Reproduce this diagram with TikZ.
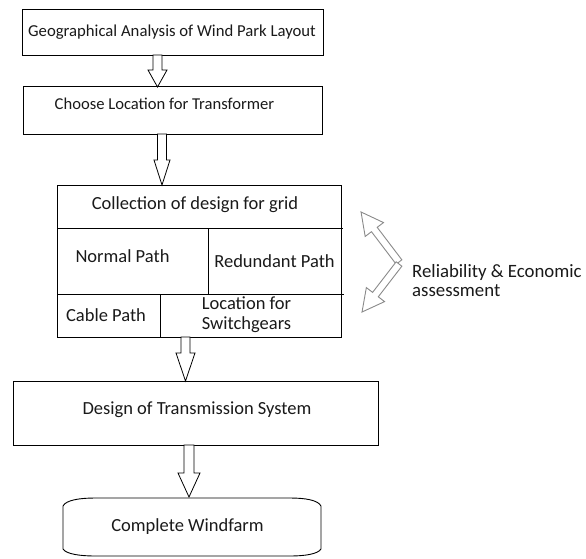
\documentclass[tikz,border=0pt]{standalone}
\usepackage{fontspec}
\setmainfont{Carlito}
\usetikzlibrary{calc}
\definecolor{txt}{HTML}{1A1A1A}
\definecolor{arrgray}{HTML}{8A8A8A}
\newcommand\blockarr[7]{%
  \draw[#1] (#2-#6,#3) -- (#2+#6,#3) -- (#2+#6,#4) -- (#2+#7,#4) -- (#2,#5) -- (#2-#7,#4) -- (#2-#6,#4) -- cycle;}
\newcommand\grayarr[4]{% x, y, angle, length
  \begin{scope}[shift={(#1,#2)}, rotate=#3]
    \draw[garrow] (0,-3.6) -- (#4-22,-3.6) -- (#4-22,-11.5) -- (#4,0) -- (#4-22,11.5) -- (#4-22,3.6) -- (0,3.6) -- cycle;
  \end{scope}}
\begin{document}
\begin{tikzpicture}[x=1pt,y=-1pt,
  box/.style={draw=black, line width=0.9pt, inner sep=0pt},
  lbl/.style={font=\fontsize{18.5}{20}\selectfont, text=txt, inner sep=0pt},
  barrowst/.style={draw=black, line width=0.8pt, fill=white},
  garrow/.style={draw=arrgray, line width=0.9pt, fill=white},
  gridline/.style={draw=black, line width=0.9pt}]
\useasboundingbox[fill=white] (0,0) rectangle (586,558);

% Box 1
\node[box, minimum width=301pt, minimum height=46pt] (b1) at (172.5,32) {};
\node[lbl, font=\fontsize{16.7}{20}\selectfont] (b1t) at (172,32) {Geographical Analysis of Wind Park Layout};

% Box 2
\node[box, minimum width=299pt, minimum height=48pt] (b2) at (172.5,110) {};
\node[lbl, font=\fontsize{16.6}{20}\selectfont] (b2t) at (164.5,104) {Choose Location for Transformer};

% Grid box
\node[box, minimum width=284pt, minimum height=152pt] (g) at (199,261) {};
\coordinate (r1L) at (57,228); \coordinate (r1R) at (343,228);
\coordinate (r2L) at (57,294); \coordinate (r2R) at (344,294);
\coordinate (v1T) at (208,228); \coordinate (v1B) at (208,294);
\coordinate (v2T) at (160,294); \coordinate (v2B) at (160,337);
\draw[gridline] (r1L) -- (r1R);
\draw[gridline] (r2L) -- (r2R);
\draw[gridline] (v1T) -- (v1B);
\draw[gridline] (v2T) -- (v2B);
\node[lbl] (gt) at (195,205) {Collection of design for grid};
\node[lbl] (np) at (122.5,256) {Normal Path};
\node[lbl] (rp) at (274.5,261) {Redundant Path};
\node[lbl] (cp) at (106,315) {Cable Path};
\node[lbl, align=center] (ls) at (246.5,315) {Location for\\Switchgears};

% Box 4
\node[box, minimum width=365pt, minimum height=64pt] (b4) at (195.5,413) {};
\node[lbl] (b4t) at (197,410) {Design of Transmission System};

% Terminal
\node[lbl] (cw) at (187.5,527) {Complete Windfarm};
\draw[line width=0.9pt] (63,506) .. controls (66,500) and (80,498) .. (95,498) -- (290,498)
  .. controls (305,498) and (318,500) .. (321,506) -- (321,549)
  .. controls (318,554) and (305,556) .. (290,556) -- (95,556)
  .. controls (80,556) and (66,554) .. (63,549) -- cycle;

% Block arrows
\blockarr{barrowst}{157.5}{55}{70}{87}{4.5}{9.5}
\blockarr{barrowst}{162}{134}{160}{185}{4.5}{8}
\blockarr{barrowst}{185.5}{337}{353}{381}{4.5}{9.5}
\blockarr{barrowst}{189}{445}{473}{497}{5}{11}

% Gray arrows
\grayarr{399}{262}{127.2}{62.8}
\grayarr{399}{264}{232.4}{60.6}
\node[lbl, align=left, anchor=west, font=\fontsize{18.8}{19}\selectfont] (ra) at (412,281) {Reliability \& Economic\\assessment};
\end{tikzpicture}
\end{document}
